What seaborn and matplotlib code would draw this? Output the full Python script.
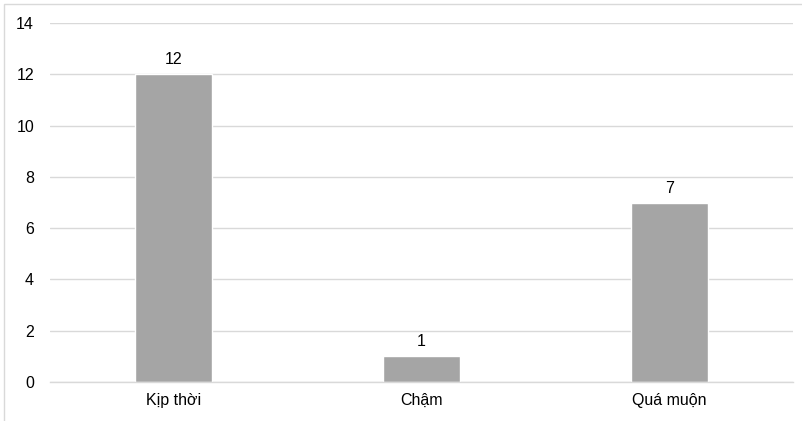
import matplotlib
matplotlib.use("Agg")
import matplotlib.pyplot as plt
import pandas as pd
import seaborn as sns
from matplotlib.patches import Rectangle


categories = ["Kịp thời", "Chậm", "Quá muộn"]
counts = [12, 1, 7]
y_ticks = [0, 2, 4, 6, 8, 10, 12, 14]

BAR_COLOR = "#A5A5A5"
GRID_COLOR = "#D9D9D9"
TEXT_COLOR = "#000000"


def build_chart():
    df = pd.DataFrame({"category": categories, "count": counts})

    sns.set_theme(style="white")
    plt.rcParams["font.family"] = ["Liberation Sans", "DejaVu Sans"]

    W, H = 803, 421
    fig = plt.figure(figsize=(W / 100, H / 100), dpi=100)
    ax = fig.add_axes([50 / W, (H - 382) / H, (793 - 50) / W, (382 - 23) / H])

    sns.barplot(data=df, x="category", y="count", color=BAR_COLOR,
                width=0.31, saturation=1, ax=ax)

    ax.set_ylim(0, 14)
    ax.set_yticks(y_ticks)
    ax.set_xlim(-0.5, len(categories) - 0.5)
    ax.grid(axis="y", color=GRID_COLOR, linewidth=1)
    ax.set_axisbelow(True)
    for side in ["top", "right", "left"]:
        ax.spines[side].set_visible(False)
    ax.spines["bottom"].set_color(GRID_COLOR)
    ax.spines["bottom"].set_linewidth(1)

    ax.tick_params(axis="both", length=0, labelsize=11.5, colors=TEXT_COLOR)
    ax.tick_params(axis="y", pad=11.5)
    ax.tick_params(axis="x", pad=8)
    ax.set_xlabel("")
    ax.set_ylabel("")

    for container in ax.containers:
        ax.bar_label(container, labels=[str(v) for v in counts],
                     padding=5, fontsize=11.5, color=TEXT_COLOR)

    # outer chart border (cropped on right and bottom)
    fig.add_artist(Rectangle((4 / W, -0.1), 1.2, 1 - 4 / H + 0.1,
                             transform=fig.transFigure, fill=False,
                             edgecolor="#D9D9D9", linewidth=1))

    fig.savefig("out.png", dpi=100)
    plt.close(fig)


if __name__ == "__main__":
    build_chart()
